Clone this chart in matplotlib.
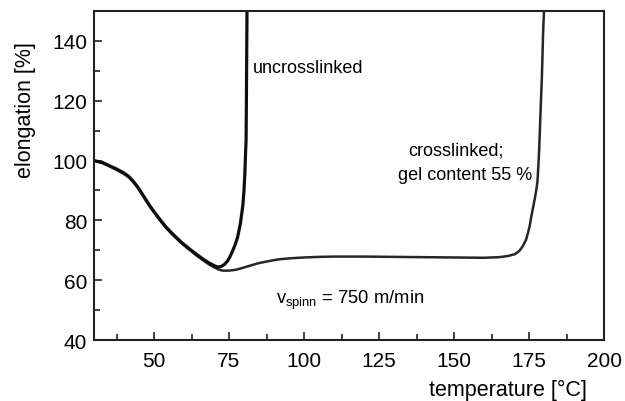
import matplotlib
matplotlib.use('Agg')
import matplotlib.pyplot as plt
from matplotlib.ticker import MultipleLocator

# elongation vs. temperature
t_uncross = [30, 33, 35.3, 37.5, 39.7, 41.5, 43, 44.5, 45.8, 47.2, 48.6, 50.2,
             51.9, 54, 56.3, 59, 61.9, 64, 66.3, 68.3, 70.2, 71.3, 72.4, 73.5,
             74.5, 75.3, 76.2, 77.1, 77.9, 78.8, 79.6, 80, 80.3, 80.5, 80.7,
             80.8, 80.9, 81]
e_uncross = [100, 99.3, 98.2, 97.2, 96, 94.8, 93.2, 91.3, 89.3, 87.1, 84.9,
             82.7, 80.4, 77.8, 75.4, 72.8, 70.4, 68.8, 67.1, 65.8, 64.8, 64.4,
             64.6, 65.3, 66.4, 67.8, 69.8, 72, 74.5, 79, 84.9, 90, 96, 102,
             107, 120, 135, 150]

t_cross = [30, 33, 35.3, 37.5, 39.7, 41.5, 43, 44.5, 45.8, 47.2, 48.6, 50.2,
           51.9, 54, 56.3, 59, 61.9, 64, 66.3, 68.3, 70.2, 71.5, 72.9, 75,
           77.3, 79.5, 81.8, 84.5, 87.3, 91, 95, 100, 105, 110, 120, 130, 140,
           150, 160, 165, 168, 170.3, 171.8, 173, 174, 174.7, 175.3, 175.8,
           176.4, 176.9, 177.4, 177.8, 178.1, 178.4, 178.8, 179.3, 179.7, 180]
e_cross = [100, 99.1, 98.0, 96.9, 95.7, 94.5, 92.9, 91.0, 89.0, 86.8, 84.6,
           82.4, 80.1, 77.5, 75.1, 72.5, 70.1, 68.4, 66.7, 65.3, 64.2, 63.6,
           63.2, 63.2, 63.5, 64.1, 64.8, 65.6, 66.2, 66.9, 67.3, 67.6, 67.8,
           67.9, 67.9, 67.8, 67.7, 67.6, 67.5, 67.7, 68.1, 68.7, 69.8, 71.5,
           73.5, 76, 78.5, 81.5, 84.5, 87.1, 90, 92.7, 98, 103.8, 115, 128,
           142.8, 150]

plt.rcParams['font.family'] = ['Liberation Sans', 'DejaVu Sans']

fig = plt.figure(figsize=(6.25, 4.02), dpi=100)
ax = fig.add_axes([0.1504, 0.1517, 0.816, 0.8183])

ax.plot(t_cross, e_cross, color='#262626', lw=1.8, solid_capstyle='butt')
ax.plot(t_uncross, e_uncross, color='#0e0e0e', lw=2.3, solid_capstyle='butt')

ax.set_xlim(30, 200)
ax.set_ylim(40, 150)
ax.xaxis.set_major_locator(MultipleLocator(25))
ax.xaxis.set_minor_locator(MultipleLocator(12.5))
ax.yaxis.set_major_locator(MultipleLocator(20))
ax.yaxis.set_minor_locator(MultipleLocator(10))
ax.tick_params(which='both', direction='in', top=False, right=False,
               width=1.2, color='#222222', labelsize=15)
ax.tick_params(which='major', length=6)
ax.tick_params(which='minor', length=4)
ax.tick_params(axis='x', pad=8)
ax.tick_params(axis='y', pad=5)
for s in ax.spines.values():
    s.set_linewidth(1.5)
    s.set_color('#222222')

ax.set_xlabel('temperature [°C]', fontsize=15.5, ha='right', va='center')
ax.xaxis.set_label_coords(0.967, -0.149)
ax.set_ylabel('elongation [%]', fontsize=15.5, va='center')
ax.yaxis.set_label_coords(-0.135, 0.702)

ax.text(82.8, 131.2, 'uncrosslinked', fontsize=13, va='center', ha='left')
ax.text(134.8, 103.5, 'crosslinked;', fontsize=13, va='center', ha='left')
ax.text(131.5, 95.5, 'gel content 55 %', fontsize=13, va='center', ha='left')
ax.text(90.6, 53.5, r'v$_{\mathregular{spinn}}$ = 750 m/min', fontsize=13.2,
        va='center', ha='left')

fig.savefig('out.png', dpi=100)
